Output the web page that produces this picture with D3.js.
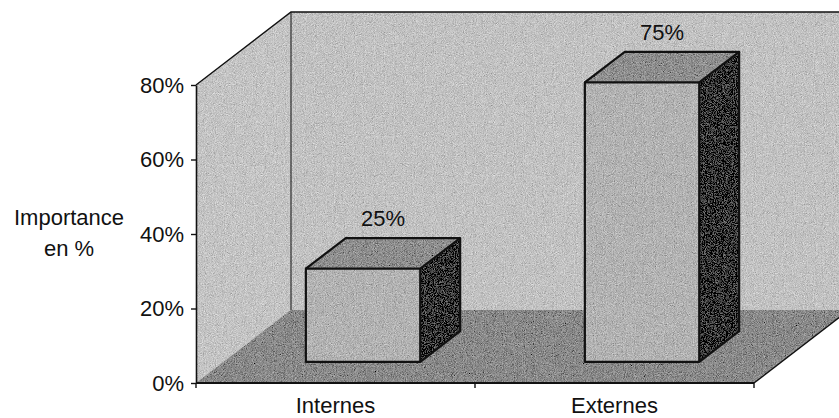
<!DOCTYPE html>
<html>
<head>
<meta charset="utf-8">
<script src="https://cdn.jsdelivr.net/npm/d3@7"></script>
<style>
  html, body { margin: 0; padding: 0; background: #fff; }
  svg { display: block; }
  text { font-family: "Liberation Sans", Arial, Helvetica, sans-serif; fill: #111; }
</style>
</head>
<body>
<svg id="chart" width="839" height="418"></svg>
<script>
// Share of each origin, in percent
const categories = ["Internes", "Externes"];
const values = [25, 75];
const yTicks = [0, 20, 40, 60, 80];
const yTitle = ["Importance", "en %"];

const svg = d3.select("#chart");

// Front plane of the 3D box and the depth vector of the walls
const x = d3.scaleBand().domain(categories).range([196, 754]).padding(0);
const y = d3.scaleLinear().domain([0, 80]).range([383, 85]);
const DX = 95, DY = -73;           // screen offset for full depth
const zFront = 0.29, zBack = 0.71; // depth span occupied by the bars
const barW = x.bandwidth() * 0.41;

// project a (screen x on the front plane, value, depth) triple
const P = (sx, v, z) => [sx + z * DX, y(v) + z * DY];

// grainy halftone texture for the filled surfaces
const defs = svg.append("defs");
const grain = defs.append("filter").attr("id", "grain")
  .attr("x", 0).attr("y", 0).attr("width", 1).attr("height", 1)
  .attr("filterUnits", "objectBoundingBox");
grain.append("feTurbulence").attr("type", "fractalNoise")
  .attr("baseFrequency", 1.1).attr("numOctaves", 2).attr("seed", 3).attr("result", "noise");
grain.append("feColorMatrix").attr("in", "noise").attr("type", "matrix")
  .attr("values", "0.33 0.33 0.33 0 0  0.33 0.33 0.33 0 0  0.33 0.33 0.33 0 0  0 0 0 0 1")
  .attr("result", "gnoise");
grain.append("feComposite").attr("in", "SourceGraphic").attr("in2", "gnoise")
  .attr("operator", "arithmetic").attr("k1", 0).attr("k2", 1).attr("k3", 1.0).attr("k4", -0.5)
  .attr("result", "mix");
grain.append("feComposite").attr("in", "mix").attr("in2", "SourceAlpha").attr("operator", "in");

const line = d3.line();
const x0 = x.range()[0], x1 = x.range()[1];
const vMax = y.domain()[1];

// walls and floor
const box = svg.append("g").attr("filter", "url(#grain)");
box.append("path") // side wall
  .attr("d", line([P(x0, 0, 0), P(x0, vMax, 0), P(x0, vMax, 1), P(x0, 0, 1)]) + "Z")
  .attr("fill", "#c4c4c4");
box.append("path") // back wall
  .attr("d", line([P(x0, 0, 1), P(x0, vMax, 1), P(x1, vMax, 1), P(x1, 0, 1)]) + "Z")
  .attr("fill", "#c2c2c2");
box.append("path") // floor
  .attr("d", line([P(x0, 0, 0), P(x0, 0, 1), P(x1, 0, 1), P(x1, 0, 0)]) + "Z")
  .attr("fill", "#8a8a8a");

// box edges
const edges = svg.append("g").attr("fill", "none").attr("stroke", "#111").attr("stroke-width", 1.4);
edges.append("path").attr("d", line([P(x0, vMax, 0), P(x0, vMax, 1), P(x1, vMax, 1)]));
edges.append("path").attr("d", line([P(x0, 0, 1), P(x0, vMax, 1)])).attr("stroke-width", 1);
edges.append("path").attr("d", line([P(x1, 0, 0), P(x1, 0, 1)]));

// bars
const bars = svg.append("g").selectAll("g").data(categories).join("g");
bars.each(function (c, i) {
  const g = d3.select(this);
  const v = values[i];
  const l = x(c) + (x.bandwidth() - barW) / 2, r = l + barW;
  const faces = g.append("g").attr("filter", "url(#grain)");
  const face = (pts, fill) => faces.append("path").attr("d", line(pts) + "Z").attr("fill", fill);
  face([P(l, 0, zFront), P(l, v, zFront), P(r, v, zFront), P(r, 0, zFront)], "#b3b3b3");
  face([P(l, v, zFront), P(l, v, zBack), P(r, v, zBack), P(r, v, zFront)], "#8f8f8f");
  face([P(r, 0, zFront), P(r, v, zFront), P(r, v, zBack), P(r, 0, zBack)], "#363636");
  const o = g.append("g").attr("fill", "none")
    .attr("stroke", "#111").attr("stroke-width", 2.2).attr("stroke-linejoin", "round");
  o.append("path").attr("d", line([P(l, 0, zFront), P(l, v, zFront), P(r, v, zFront), P(r, 0, zFront)]) + "Z");
  o.append("path").attr("d", line([P(l, v, zFront), P(l, v, zBack), P(r, v, zBack), P(r, v, zFront)]));
  o.append("path").attr("d", line([P(r, 0, zFront), P(r, 0, zBack), P(r, v, zBack)]));

  // value label above the top face
  const c3 = P((l + r) / 2, v, (zFront + zBack) / 2);
  g.append("text")
    .attr("x", c3[0]).attr("y", c3[1] - 27)
    .attr("text-anchor", "middle").attr("font-size", 22)
    .text(d3.format("d")(v) + "%");
});

// value axis
const yAxis = svg.append("g").attr("transform", `translate(${x0},0)`)
  .call(d3.axisLeft(y).tickValues(yTicks).tickFormat(d => d + "%").tickSize(5).tickSizeOuter(0).tickPadding(7));
yAxis.select(".domain").attr("stroke", "#111").attr("stroke-width", 1.6);
yAxis.selectAll(".tick line").attr("stroke", "#111").attr("stroke-width", 1.4);
yAxis.selectAll(".tick text").attr("font-size", 22).attr("font-family", null).attr("fill", "#111");

// category axis
const xAxis = svg.append("g").attr("transform", `translate(0,${y(0)})`);
xAxis.append("path").attr("d", line([[x0, 0], [x1, 0]])).attr("stroke", "#111").attr("stroke-width", 1.8);
const bounds = categories.map(c => x(c)).concat([x1]);
xAxis.selectAll("line.tk").data(bounds).join("line").attr("class", "tk")
  .attr("x1", d => d).attr("x2", d => d).attr("y1", 0).attr("y2", 5)
  .attr("stroke", "#111").attr("stroke-width", 1.4);
xAxis.selectAll("text").data(categories).join("text")
  .attr("x", c => x(c) + x.bandwidth() / 2).attr("y", 30)
  .attr("text-anchor", "middle").attr("font-size", 22)
  .text(c => c);

// axis title
svg.append("text").attr("text-anchor", "middle").attr("font-size", 22)
  .selectAll("tspan").data(yTitle).join("tspan")
  .attr("x", 69).attr("y", (d, i) => 225 + i * 31).text(d => d);
</script>
</body>
</html>
